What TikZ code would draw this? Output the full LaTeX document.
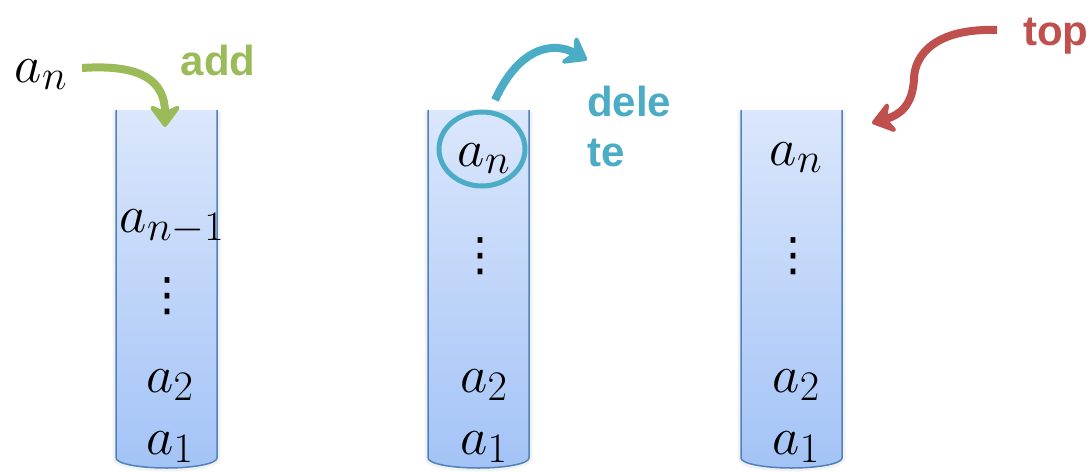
\RequirePackage{fix-cm}
\documentclass[tikz,border=0pt]{standalone}
\usepackage{fontspec}
\setsansfont{Liberation Sans}
\newfontfamily\symfont{DejaVu Sans}
\usetikzlibrary{arrows.meta,shapes.geometric}
\DeclareMathSizes{53}{53}{42}{32}
\definecolor{addgreen}{RGB}{155,187,89}
\definecolor{delblue}{RGB}{75,172,198}
\definecolor{topred}{RGB}{192,80,77}
\definecolor{tubetop}{RGB}{219,231,252}
\definecolor{tubebot}{RGB}{163,195,246}
\definecolor{tubeedge}{RGB}{79,129,189}
\newcommand\mytube[1]{%
  \draw[black,opacity=0.05,line width=7pt] (#1,112) -- (#1,458) .. controls (#1,463.5) and (#1+22.6,468) .. (#1+50.5,468) .. controls (#1+78.4,468) and (#1+101,463.5) .. (#1+101,458) -- (#1+101,112);
  \shade[top color=tubetop,bottom color=tubebot] (#1,110) -- (#1,458) .. controls (#1,463.5) and (#1+22.6,468) .. (#1+50.5,468) .. controls (#1+78.4,468) and (#1+101,463.5) .. (#1+101,458) -- (#1+101,110) -- cycle;
  \draw[tubeedge,line width=1.5pt] (#1,110) -- (#1,458) .. controls (#1,463.5) and (#1+22.6,468) .. (#1+50.5,468) .. controls (#1+78.4,468) and (#1+101,463.5) .. (#1+101,458) -- (#1+101,110);
}
\tikzset{
  lbl/.style={font=\fontsize{42}{50}\selectfont\sffamily\bfseries, inner sep=0pt},
  mth/.style={font=\fontsize{53}{64}\selectfont, anchor=base, inner sep=0pt},
  dots/.style={font=\fontsize{46}{55}\selectfont\symfont, inner sep=0pt},
  curvearrow/.style={line width=8pt, -{Stealth[length=26pt,width=38pt,inset=9pt,round]}},
}
\begin{document}
\begin{tikzpicture}[x=1pt,y=-1pt]
\useasboundingbox (0,0) rectangle (1091,471);
\mytube{116}
\mytube{428}
\mytube{741}
% tube 1
\node[mth] (new) at (41,82) {$a_n$};
\node[mth] (t1a) at (172,232) {$a_{n-1}$};
\node[dots] (t1v) at (167,296) {⋮};
\node[mth] (t1b) at (170,392) {$a_2$};
\node[mth] (t1c) at (170,454) {$a_1$};
\node[lbl, anchor=base] (add) at (218,75) {\textcolor{addgreen}{add}};
\coordinate (addstart) at (82,68);
\coordinate (addend) at (165,127);
\draw[curvearrow, addgreen] (addstart) .. controls (140,64) and (165,80) .. (addend);
% tube 2
\node[mth] (t2a) at (484,166) {$a_n$};
\node[draw=delblue, line width=5pt, ellipse, minimum width=86pt, minimum height=74pt] (circ) at (482,149) {};
\node[dots] (t2v) at (480,256) {⋮};
\node[mth] (t2b) at (484,392) {$a_2$};
\node[mth] (t2c) at (484,454) {$a_1$};
\node[lbl, anchor=north west, align=left, text=delblue] (del) at (587,86) {dele\\te};
\coordinate (delstart) at (495,100);
\coordinate (delend) at (587,60);
\draw[curvearrow, delblue] (delstart) .. controls (520,45) and (555,42) .. (delend);
% tube 3
\node[mth] (t3a) at (796,165) {$a_n$};
\node[dots] (t3v) at (793,256) {⋮};
\node[mth] (t3b) at (796,392) {$a_2$};
\node[mth] (t3c) at (796,454) {$a_1$};
\node[lbl, anchor=base west, text=topred] (top) at (1023,45) {top};
\coordinate (topstart) at (997,30);
\coordinate (topend) at (872,123);
\draw[curvearrow, topred] (topstart) .. controls (935,28) and (915,55) .. (914,78) .. controls (913,105) and (900,115) .. (topend);
\end{tikzpicture}
\end{document}
